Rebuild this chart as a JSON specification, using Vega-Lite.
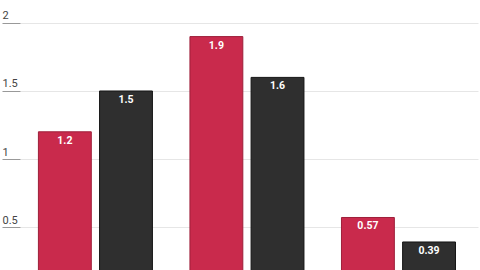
{
  "$schema": "https://vega.github.io/schema/vega-lite/v6.json",
  "width": 458,
  "height": 270,
  "autosize": "none",
  "padding": {"left": 20, "top": 0, "right": 2, "bottom": 0},
  "background": "white",
  "config": {"view": {"stroke": null}},
  "data": {
    "values": [
      {"group": "A", "series": "S1", "value": 1.2},
      {"group": "A", "series": "S2", "value": 1.5},
      {"group": "B", "series": "S1", "value": 1.9},
      {"group": "B", "series": "S2", "value": 1.6},
      {"group": "C", "series": "S1", "value": 0.57},
      {"group": "C", "series": "S2", "value": 0.39}
    ]
  },
  "encoding": {
    "x": {
      "field": "group",
      "type": "nominal",
      "axis": null,
      "scale": {"paddingInner": 0.2475, "paddingOuter": 0.135, "align": 0.45}
    },
    "xOffset": {
      "field": "series",
      "type": "nominal",
      "scale": {"paddingInner": 0.135, "paddingOuter": 0}
    },
    "y": {
      "field": "value",
      "type": "quantitative",
      "scale": {"domain": [0.184, 2.169], "zero": false, "nice": false},
      "axis": {
        "values": [0.5, 1, 1.5, 2],
        "format": "~g",
        "title": null,
        "domain": false,
        "tickSize": 18,
        "tickColor": "#999999",
        "tickWidth": 1,
        "grid": true,
        "gridColor": "#e6e6e6",
        "gridWidth": 1,
        "labelAlign": "left",
        "labelBaseline": "bottom",
        "labelPadding": 0,
        "labelOffset": -2,
        "labelFont": "Roboto",
        "labelFontSize": 11,
        "labelColor": "#444444"
      }
    }
  },
  "layer": [
    {
      "mark": {"type": "bar", "clip": true, "strokeWidth": 1},
      "encoding": {
        "y2": {"datum": 0},
        "color": {
          "field": "series",
          "type": "nominal",
          "scale": {"domain": ["S1", "S2"], "range": ["#c92a4c", "#2f2f2f"]},
          "legend": null
        },
        "stroke": {
          "field": "series",
          "type": "nominal",
          "scale": {"domain": ["S1", "S2"], "range": ["#9e1f3a", "#151515"]},
          "legend": null
        }
      }
    },
    {
      "mark": {"type": "text", "baseline": "top", "dy": 4, "color": "white", "fontWeight": "bold", "fontSize": 10.5, "font": "Roboto"},
      "encoding": {
        "text": {"field": "value", "type": "quantitative"}
      }
    }
  ]
}
